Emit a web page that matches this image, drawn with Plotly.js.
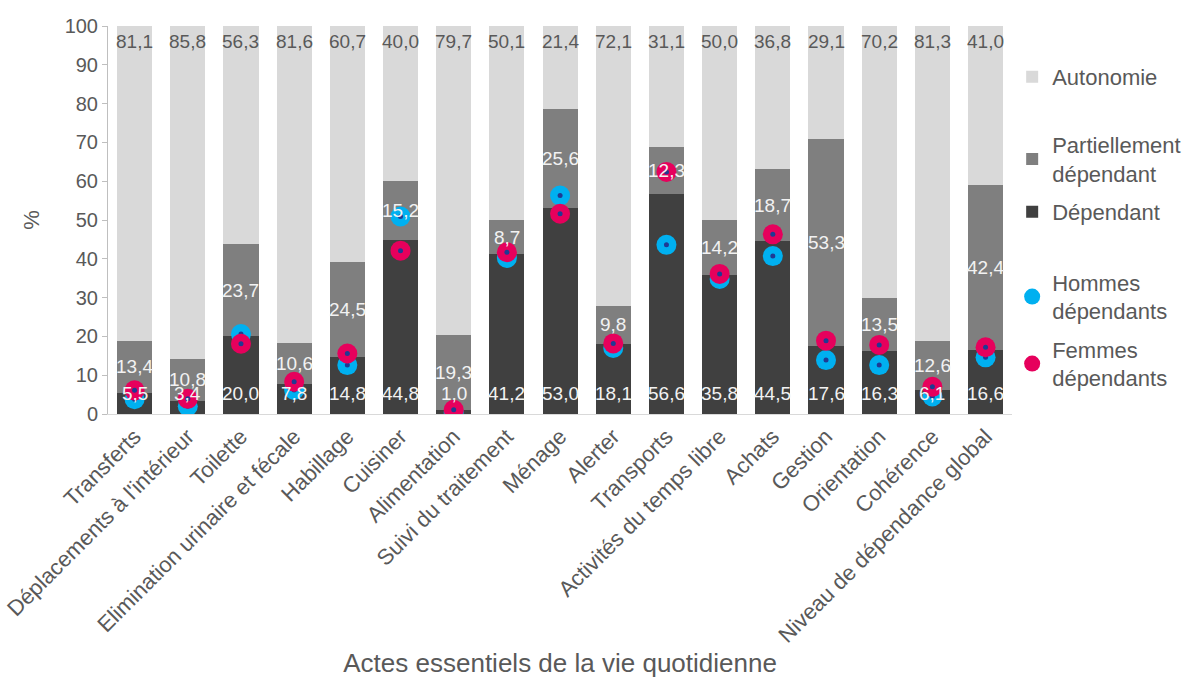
<!DOCTYPE html>
<html><head><meta charset="utf-8">
<script src="https://cdn.plot.ly/plotly-3.0.1.min.js"></script>
<style>body{margin:0;background:#fff}#c{width:1195px;height:680px}</style>
</head><body><div id="c"></div>
<script>
const categories = ["Transferts","Déplacements à l'intérieur","Toilette","Elimination urinaire et fécale","Habillage","Cuisiner","Alimentation","Suivi du traitement","Ménage","Alerter","Transports","Activités du temps libre","Achats","Gestion","Orientation","Cohérence","Niveau de dépendance global"];
const dependant = [5.5,3.4,20.0,7.8,14.8,44.8,1.0,41.2,53.0,18.1,56.6,35.8,44.5,17.6,16.3,6.1,16.6];
const partiel = [13.4,10.8,23.7,10.6,24.5,15.2,19.3,8.7,25.6,9.8,12.3,14.2,18.7,53.3,13.5,12.6,42.4];
const autonomie = [81.1,85.8,56.3,81.6,60.7,40.0,79.7,50.1,21.4,72.1,31.1,50.0,36.8,29.1,70.2,81.3,41.0];
const hommes = [3.8,2.0,20.6,6.2,12.6,50.9,0.4,40.2,56.3,17.0,43.6,34.8,40.7,13.9,12.6,4.5,14.6];
const femmes = [6.1,3.9,18.1,8.3,15.6,42.1,1.1,41.7,51.6,18.2,62.4,36.1,46.3,18.9,17.8,7.0,17.2];
const yTicks = [0,10,20,30,40,50,60,70,80,90,100];

const fmt = v => v.toFixed(1).replace('.', ',');
const FONT = "Liberation Sans, Arial, sans-serif";
const GREY = "#595959";
const LIGHT = "#f2f2f2";

const traces = [
  {type:'bar', x:categories, y:dependant, name:'Dépendant', legend:'legend3', marker:{color:'#404040'}, hoverinfo:'skip'},
  {type:'bar', x:categories, y:partiel, name:'Partiellement<br>dépendant', legend:'legend2', marker:{color:'#7f7f7f'}, hoverinfo:'skip'},
  {type:'bar', x:categories, y:autonomie, name:'Autonomie', legend:'legend', marker:{color:'#d9d9d9'}, hoverinfo:'skip'},
  {type:'scatter', mode:'markers', x:categories, y:hommes, name:'Hommes<br>dépendants', legend:'legend4',
    marker:{color:'#00b0f0', size:20, line:{width:0}}},
  {type:'scatter', mode:'markers', x:categories, y:hommes, showlegend:false, hoverinfo:'skip',
    marker:{color:'#1f3a93', size:5}},
  {type:'scatter', mode:'markers', x:categories, y:femmes, name:'Femmes<br>dépendants', legend:'legend5',
    marker:{color:'#e6005c', size:20, line:{width:0}}},
  {type:'scatter', mode:'markers', x:categories, y:femmes, showlegend:false, hoverinfo:'skip',
    marker:{color:'#1f3a93', size:5}}
];

// value labels, positioned from the data through the y axis
const annotations = [];
categories.forEach((c, i) => {
  annotations.push({x:c, y:0, xref:'x', yref:'y', text:fmt(dependant[i]), showarrow:false,
    yanchor:'bottom', yshift:8, font:{size:19, color:LIGHT, family:FONT}});
  annotations.push({x:c, y:dependant[i] + partiel[i] / 2, xref:'x', yref:'y', text:fmt(partiel[i]), showarrow:false,
    yanchor:'middle', font:{size:19, color:LIGHT, family:FONT}});
  annotations.push({x:c, y:dependant[i] + partiel[i] + autonomie[i], xref:'x', yref:'y', text:fmt(autonomie[i]), showarrow:false,
    yanchor:'top', yshift:-3, font:{size:19, color:GREY, family:FONT}});
});

const legBase = (y) => ({x:0.847, xref:'container', xanchor:'left', y:y, yref:'paper', yanchor:'middle',
  font:{size:22, color:GREY, family:FONT}, itemwidth:30, bgcolor:'rgba(0,0,0,0)'});

const layout = {
  width:1195, height:680,
  margin:{l:108, r:178, t:26, b:266},
  paper_bgcolor:'#fff', plot_bgcolor:'#fff',
  font:{family:FONT, color:GREY},
  barmode:'stack', bargap:0.34,
  showlegend:true,
  legend:legBase(0.8686),
  legend2:legBase(0.656),
  legend3:legBase(0.5206),
  legend4:legBase(0.3015),
  legend5:legBase(0.1289),
  annotations:annotations,
  xaxis:{type:'category', range:[-0.5, categories.length - 0.5], autorange:false, tickangle:-45,
    tickfont:{size:22, color:GREY}, showgrid:false,
    showline:true, linecolor:'#d9d9d9', linewidth:1, ticks:'', automargin:false,
    title:{text:'Actes essentiels de la vie quotidienne', font:{size:26, color:GREY}, standoff:0}},
  yaxis:{range:[0,100], tickvals:yTicks, ticktext:yTicks.map(String), tickfont:{size:20, color:GREY}, showgrid:false,
    showline:true, linecolor:'#bfbfbf', linewidth:1, ticks:'outside', ticklen:5, tickcolor:'#bfbfbf', zeroline:false,
    automargin:false, title:{text:'%', font:{size:22, color:GREY}, standoff:18}}
};

Plotly.newPlot('c', traces, layout, {displayModeBar:false, staticPlot:true});
</script>
</body></html>
